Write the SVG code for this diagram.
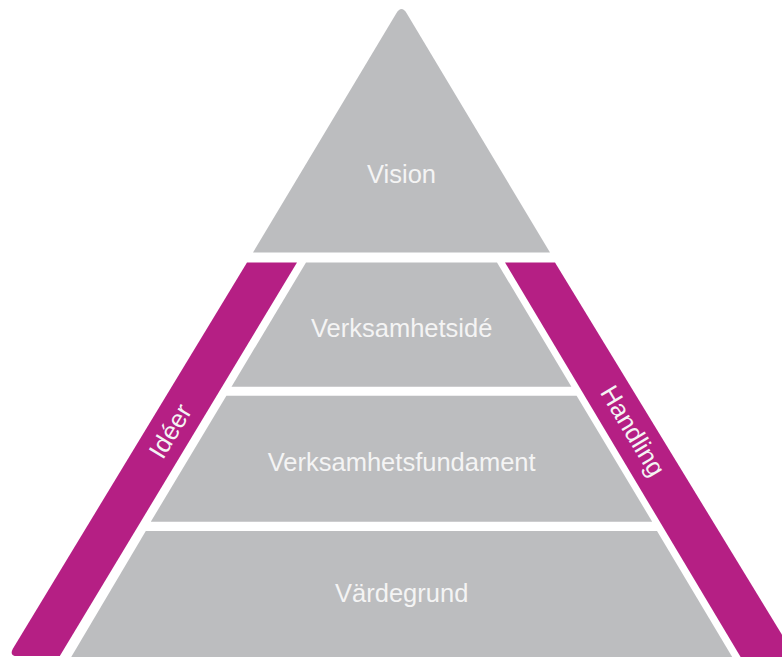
<svg xmlns="http://www.w3.org/2000/svg" width="782" height="657" viewBox="0 0 782 657">
<style>
.g{fill:#bcbdbf}
.m{fill:#b51f84}
.t{fill:#f4f4f4;font-family:"Liberation Sans",Arial,sans-serif;font-size:25.5px;text-anchor:middle}
</style>
<rect width="782" height="657" fill="#ffffff"/>
<g id="vision">
<path class="g" d="M253,252.5 L396.5,13 Q401.5,5 406.5,13 L550,252.5 Z"/>
<text class="t" x="401.5" y="183">Vision</text>
</g>
<g id="verksamhetside">
<polygon class="g" points="306,262.5 497,262.5 571.4,386.7 231.5,386.7"/>
<text class="t" x="401.7" y="336.7">Verksamhetsidé</text>
</g>
<g id="verksamhetsfundament">
<polygon class="g" points="226.4,395.7 576.6,395.7 652.2,521.7 150.8,521.7"/>
<text class="t" x="401.7" y="470.7">Verksamhetsfundament</text>
</g>
<g id="vardegrund">
<polygon class="g" points="145.8,531 657,531 737,665 66.5,665"/>
<text class="t" x="401.7" y="601.7">Värdegrund</text>
</g>
<g id="ideer">
<path class="m" d="M247,262.5 L297,262.5 L59.8,656 L17,656 Q9,656 13,648.5 Z"/>
<text class="t" transform="translate(170,431) rotate(-58.8)" x="0" y="9">Idéer</text>
</g>
<g id="handling">
<polygon class="m" points="505,262.5 555,262.5 801,666 746,666"/>
<text class="t" transform="translate(631,432) rotate(59)" x="0" y="6.5">Handling</text>
</g>
<g id="connectors"></g>
</svg>
